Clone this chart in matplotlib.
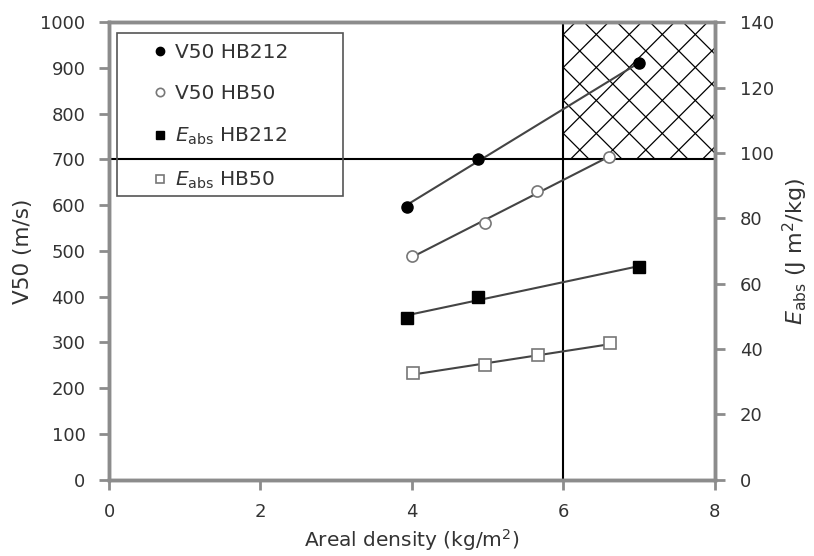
import numpy as np
import matplotlib.pyplot as plt
from matplotlib.patches import Rectangle
from matplotlib.transforms import IdentityTransform

plt.rcParams['font.family'] = ['DejaVu Sans']
plt.rcParams['mathtext.fontset'] = 'dejavusans'

# values
dens_v212 = [3.93, 4.87, 7.0]
v50_hb212 = [597, 700, 910]
dens_v50 = [4.0, 4.96, 5.65, 6.6]
v50_hb50 = [488, 562, 630, 705]
dens_e212 = [3.93, 4.87, 7.0]
eabs_hb212 = [49.5, 56.0, 65.0]
dens_e50 = [4.01, 4.96, 5.67, 6.62]
eabs_hb50 = [32.5, 35.0, 38.0, 41.7]

v50_limit = 700
dens_limit = 6

txt = '#333333'
spine = '#8c8c8c'
linec = '#444444'

fig = plt.figure(figsize=(8.14, 5.56), dpi=100)
ax = fig.add_axes([0.134, 0.1375, 0.744, 0.8225])
ax2 = ax.twinx()

ax.set_xlim(0, 8)
ax.set_ylim(0, 1000)
ax2.set_ylim(0, 140)
ax.set_xticks(range(0, 9, 2))
ax.set_yticks(range(0, 1001, 100))
ax2.set_yticks(range(0, 141, 20))

for a in (ax, ax2):
    for s in a.spines.values():
        s.set_color(spine)
        s.set_linewidth(2.5)
    a.tick_params(direction='out', length=7, width=2, color=spine,
                  labelsize=13, labelcolor=txt, pad=10)
ax2.tick_params(axis='y', pad=11)

ax.set_xlabel('Areal density (kg/m$^2$)', fontsize=14.5, color=txt, labelpad=4)
ax.set_ylabel('V50 (m/s)', fontsize=15.5, color=txt, labelpad=5)
ax2.set_ylabel(r'$E_{\rm abs}$ (J m$^2$/kg)', fontsize=16, color=txt, labelpad=5)


def trend(a, xs, ys):
    k, b = np.polyfit(xs, ys, 1)
    xx = np.array([min(xs), max(xs)])
    a.plot(xx, k * xx + b, color=linec, lw=1.5, zorder=3)


trend(ax, dens_v212, v50_hb212)
trend(ax, dens_v50, v50_hb50)
trend(ax2, dens_e212, eabs_hb212)
trend(ax2, dens_e50, eabs_hb50)

ax.axhline(v50_limit, color='black', lw=1.5, zorder=2)
ax.axvline(dens_limit, color='black', lw=1.5, zorder=2)

h1, = ax.plot(dens_v212, v50_hb212, 'o', ms=8, mfc='black', mec='black',
              zorder=5, label='V50 HB212')
h2, = ax.plot(dens_v50, v50_hb50, 'o', ms=8, mfc='white', mec='#777777',
              mew=1.2, zorder=5, label='V50 HB50')
h3, = ax2.plot(dens_e212, eabs_hb212, 's', ms=8.5, mfc='black', mec='black',
               zorder=5, label=r'$E_{\rm abs}$ HB212')
h4, = ax2.plot(dens_e50, eabs_hb50, 's', ms=8.5, mfc='white', mec='#777777',
               mew=1.2, zorder=5, label=r'$E_{\rm abs}$ HB50')

# cross-hatched zone (x >= 6, V50 >= 700)
zone = Rectangle((dens_limit, v50_limit), 8 - dens_limit, 1000 - v50_limit,
                 fill=False, lw=0, transform=ax.transData)
ax.add_patch(zone)
fig.canvas.draw()
x0, y0 = ax.transData.transform((dens_limit, v50_limit))
x1, y1 = ax.transData.transform((8, 1000))
step = 33
for c in np.arange(-700, 700, step):
    for sgn in (1, -1):
        xs = np.array([x0 - 400, x1 + 400])
        ys = y0 + sgn * (xs - x0) + c
        ln = ax.plot(xs, ys, color='black', lw=0.9, transform=IdentityTransform(),
                     zorder=2)[0]
        ln.set_clip_path(zone)

leg = ax.legend(handles=[h1, h2, h3, h4], loc='upper left',
                bbox_to_anchor=(0.045, 0.995), frameon=False, fontsize=14.5,
                handlelength=0.6, handletextpad=0.4, labelspacing=1.12,
                markerscale=0.75, labelcolor=txt)
leg.set_zorder(6)
fig.patches.append(Rectangle((117 / 814, 1 - 196 / 556), 226 / 814, 163 / 556,
                             transform=fig.transFigure, fill=False,
                             ec='#555555', lw=1.2, figure=fig))

fig.savefig('out.png', dpi=100)
